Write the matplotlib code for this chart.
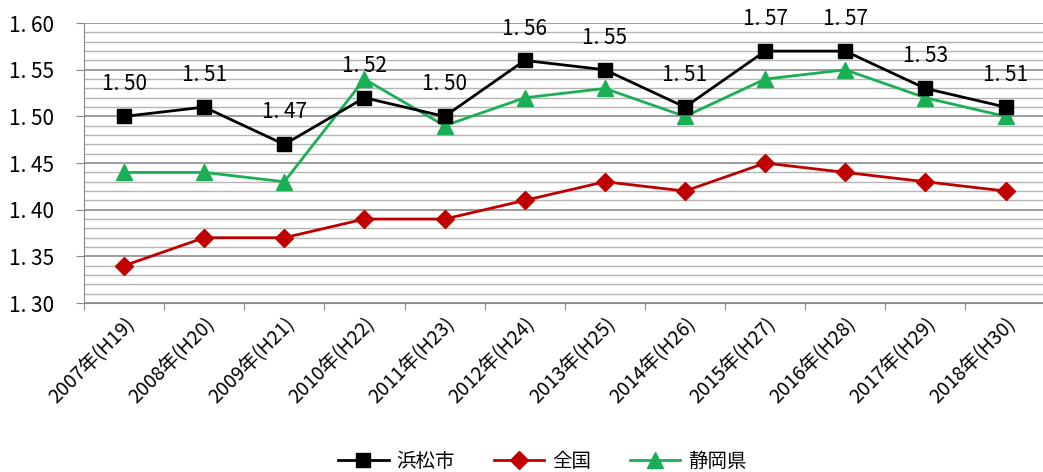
import matplotlib.pyplot as plt
from matplotlib.ticker import MultipleLocator

FONTS = ['Liberation Sans Narrow', 'Noto Sans CJK JP', 'DejaVu Sans']
plt.rcParams['font.family'] = FONTS

years = ["2007年(H19)", "2008年(H20)", "2009年(H21)", "2010年(H22)",
         "2011年(H23)", "2012年(H24)", "2013年(H25)", "2014年(H26)",
         "2015年(H27)", "2016年(H28)", "2017年(H29)", "2018年(H30)"]
hamamatsu = [1.50, 1.51, 1.47, 1.52, 1.50, 1.56, 1.55, 1.51, 1.57, 1.57, 1.53, 1.51]
zenkoku = [1.34, 1.37, 1.37, 1.39, 1.39, 1.41, 1.43, 1.42, 1.45, 1.44, 1.43, 1.42]
shizuoka = [1.44, 1.44, 1.43, 1.54, 1.49, 1.52, 1.53, 1.50, 1.54, 1.55, 1.52, 1.50]


def fmt(v):
    # the source font renders "1.50" with a wide period
    return f"{v:.2f}".replace(".", ". ")


def main():
    fig = plt.figure(figsize=(10.43, 4.72), dpi=100)
    ax = fig.add_axes([0.0805, 0.358, 0.922, 0.593])
    xs = list(range(len(years)))

    ax.plot(xs, hamamatsu, color="black", lw=2, marker="s", ms=10,
            label="浜松市", zorder=4)
    ax.plot(xs, zenkoku, color="#C00000", lw=2, marker="D", ms=9,
            label="全国", zorder=3)
    ax.plot(xs, shizuoka, color="#1AAF54", lw=2, marker="^", ms=11,
            label="静岡県", zorder=3)

    # labels above 浜松市 points
    for x, v in zip(xs, hamamatsu):
        ax.annotate(fmt(v), (x, v), xytext=(0, 23), textcoords="offset points",
                    ha="center", va="center", fontsize=15, annotation_clip=False)

    ax.set_xlim(-0.5, len(years) - 0.5)
    ax.set_ylim(1.30, 1.60)
    ax.yaxis.set_major_locator(MultipleLocator(0.05))
    ax.yaxis.set_minor_locator(MultipleLocator(0.01))
    ax.yaxis.set_major_formatter(lambda v, p: fmt(v))
    ax.grid(True, which="major", axis="y", color="#8c8c8c", lw=1.2)
    ax.grid(True, which="minor", axis="y", color="#b4b4b4", lw=1.0)
    ax.set_axisbelow(True)

    ax.set_xticks([x - 0.5 for x in xs] + [len(years) - 0.5])
    ax.set_xticklabels([])
    ax.set_xticks(xs, minor=True)
    ax.set_xticklabels(years, minor=True, rotation=45, ha="right",
                       rotation_mode="anchor", fontsize=14)
    ax.tick_params(axis="x", which="minor", length=0, pad=8)
    ax.tick_params(axis="x", which="major", length=5, color="#888888")
    ax.tick_params(axis="y", which="major", length=6, color="#888888",
                   labelsize=15, pad=48)
    ax.tick_params(axis="y", which="minor", length=0)
    for lab in ax.get_yticklabels():
        lab.set_ha("left")

    for s in ["top", "right"]:
        ax.spines[s].set_visible(False)
    ax.spines["left"].set_color("#888888")
    ax.spines["bottom"].set_color("#888888")

    fig.legend(loc="center", bbox_to_anchor=(0.52, 0.022), ncol=3, frameon=False,
               fontsize=14, handlelength=2.6, columnspacing=2.0, handletextpad=0.4)

    fig.savefig("out.png", dpi=100)


if __name__ == "__main__":
    main()
